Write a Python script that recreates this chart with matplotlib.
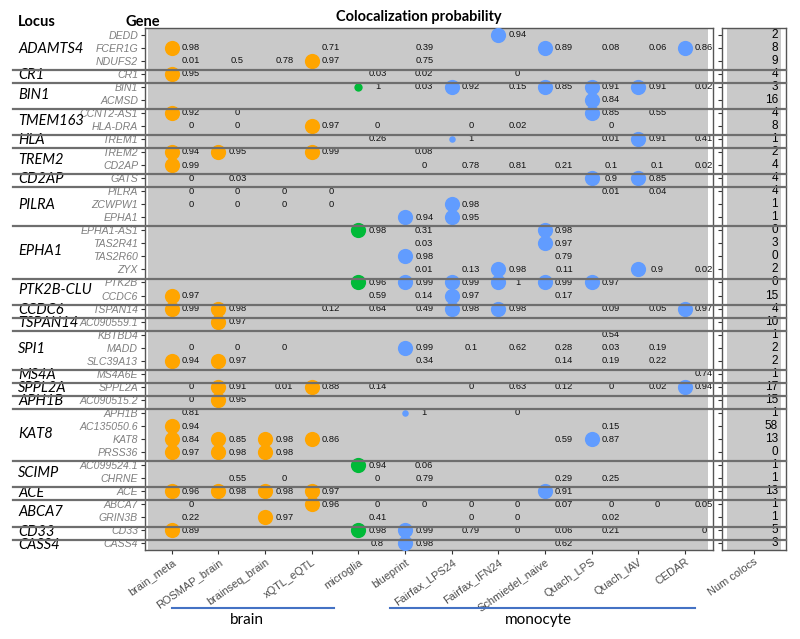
import matplotlib
matplotlib.use('Agg')
import matplotlib.pyplot as plt
from matplotlib.lines import Line2D
from matplotlib.transforms import blended_transform_factory

# columns (datasets) and their tissue group
datasets = ['brain_meta', 'ROSMAP_brain', 'brainseq_brain', 'xQTL_eQTL', 'microglia',
            'blueprint', 'Fairfax_LPS24', 'Fairfax_IFN24', 'Schmiedel_naive',
            'Quach_LPS', 'Quach_IAV', 'CEDAR']
tissue = ['brain'] * 4 + ['microglia'] + ['monocyte'] * 7

# loci and the genes they contain (top to bottom)
loci = ['ADAMTS4', 'CR1', 'BIN1', 'TMEM163', 'HLA', 'TREM2', 'CD2AP', 'PILRA', 'EPHA1',
        'PTK2B-CLU', 'CCDC6', 'TSPAN14', 'SPI1', 'MS4A', 'SPPL2A', 'APH1B', 'KAT8',
        'SCIMP', 'ACE', 'ABCA7', 'CD33', 'CASS4']
locus_genes = [
    ['DEDD', 'FCER1G', 'NDUFS2'],
    ['CR1'],
    ['BIN1', 'ACMSD'],
    ['CCNT2-AS1', 'HLA-DRA'],
    ['TREM1'],
    ['TREM2', 'CD2AP'],
    ['GATS'],
    ['PILRA', 'ZCWPW1', 'EPHA1'],
    ['EPHA1-AS1', 'TAS2R41', 'TAS2R60', 'ZYX'],
    ['PTK2B', 'CCDC6'],
    ['TSPAN14'],
    ['AC090559.1'],
    ['KBTBD4', 'MADD', 'SLC39A13'],
    ['MS4A6E'],
    ['SPPL2A'],
    ['AC090515.2'],
    ['APH1B', 'AC135050.6', 'KAT8', 'PRSS36'],
    ['AC099524.1', 'CHRNE'],
    ['ACE'],
    ['ABCA7', 'GRIN3B'],
    ['CD33'],
    ['CASS4'],
]

# colocalization probability per gene and dataset
coloc = {
    'DEDD': {'Fairfax_IFN24': 0.94},
    'FCER1G': {'brain_meta': 0.98, 'xQTL_eQTL': 0.71, 'blueprint': 0.39, 'Schmiedel_naive': 0.89,
               'Quach_LPS': 0.08, 'Quach_IAV': 0.06, 'CEDAR': 0.86},
    'NDUFS2': {'brain_meta': 0.01, 'ROSMAP_brain': 0.5, 'brainseq_brain': 0.78, 'xQTL_eQTL': 0.97,
               'blueprint': 0.75},
    'CR1': {'brain_meta': 0.95, 'microglia': 0.03, 'blueprint': 0.02, 'Fairfax_IFN24': 0},
    'BIN1': {'microglia': 1, 'blueprint': 0.03, 'Fairfax_LPS24': 0.92, 'Fairfax_IFN24': 0.15,
             'Schmiedel_naive': 0.85, 'Quach_LPS': 0.91, 'Quach_IAV': 0.91, 'CEDAR': 0.02},
    'ACMSD': {'Quach_LPS': 0.84},
    'CCNT2-AS1': {'brain_meta': 0.92, 'ROSMAP_brain': 0, 'Quach_LPS': 0.85, 'Quach_IAV': 0.55},
    'HLA-DRA': {'brain_meta': 0, 'ROSMAP_brain': 0, 'xQTL_eQTL': 0.97, 'microglia': 0,
                'Fairfax_LPS24': 0, 'Fairfax_IFN24': 0.02, 'Quach_LPS': 0},
    'TREM1': {'microglia': 0.26, 'Fairfax_LPS24': 1, 'Quach_LPS': 0.01, 'Quach_IAV': 0.91,
              'CEDAR': 0.41},
    'TREM2': {'brain_meta': 0.94, 'ROSMAP_brain': 0.95, 'xQTL_eQTL': 0.99, 'blueprint': 0.08},
    'CD2AP': {'brain_meta': 0.99, 'blueprint': 0, 'Fairfax_LPS24': 0.78, 'Fairfax_IFN24': 0.81,
              'Schmiedel_naive': 0.21, 'Quach_LPS': 0.1, 'Quach_IAV': 0.1, 'CEDAR': 0.02},
    'GATS': {'brain_meta': 0, 'ROSMAP_brain': 0.03, 'Quach_LPS': 0.9, 'Quach_IAV': 0.85},
    'PILRA': {'brain_meta': 0, 'ROSMAP_brain': 0, 'brainseq_brain': 0, 'xQTL_eQTL': 0,
              'Quach_LPS': 0.01, 'Quach_IAV': 0.04},
    'ZCWPW1': {'brain_meta': 0, 'ROSMAP_brain': 0, 'brainseq_brain': 0, 'xQTL_eQTL': 0,
               'Fairfax_LPS24': 0.98},
    'EPHA1': {'blueprint': 0.94, 'Fairfax_LPS24': 0.95},
    'EPHA1-AS1': {'microglia': 0.98, 'blueprint': 0.31, 'Schmiedel_naive': 0.98},
    'TAS2R41': {'blueprint': 0.03, 'Schmiedel_naive': 0.97},
    'TAS2R60': {'blueprint': 0.98, 'Schmiedel_naive': 0.79},
    'ZYX': {'blueprint': 0.01, 'Fairfax_LPS24': 0.13, 'Fairfax_IFN24': 0.98, 'Schmiedel_naive': 0.11,
            'Quach_IAV': 0.9, 'CEDAR': 0.02},
    'PTK2B': {'microglia': 0.96, 'blueprint': 0.99, 'Fairfax_LPS24': 0.99, 'Fairfax_IFN24': 1,
              'Schmiedel_naive': 0.99, 'Quach_LPS': 0.97},
    'CCDC6': {'brain_meta': 0.97, 'microglia': 0.59, 'blueprint': 0.14, 'Fairfax_LPS24': 0.97,
              'Schmiedel_naive': 0.17},
    'TSPAN14': {'brain_meta': 0.99, 'ROSMAP_brain': 0.98, 'xQTL_eQTL': 0.12, 'microglia': 0.64,
                'blueprint': 0.49, 'Fairfax_LPS24': 0.98, 'Fairfax_IFN24': 0.98, 'Quach_LPS': 0.09,
                'Quach_IAV': 0.05, 'CEDAR': 0.97},
    'AC090559.1': {'ROSMAP_brain': 0.97},
    'KBTBD4': {'Quach_LPS': 0.54},
    'MADD': {'brain_meta': 0, 'ROSMAP_brain': 0, 'brainseq_brain': 0, 'blueprint': 0.99,
             'Fairfax_LPS24': 0.1, 'Fairfax_IFN24': 0.62, 'Schmiedel_naive': 0.28, 'Quach_LPS': 0.03,
             'Quach_IAV': 0.19},
    'SLC39A13': {'brain_meta': 0.94, 'ROSMAP_brain': 0.97, 'blueprint': 0.34, 'Schmiedel_naive': 0.14,
                 'Quach_LPS': 0.19, 'Quach_IAV': 0.22},
    'MS4A6E': {'CEDAR': 0.74},
    'SPPL2A': {'brain_meta': 0, 'ROSMAP_brain': 0.91, 'brainseq_brain': 0.01, 'xQTL_eQTL': 0.88,
               'microglia': 0.14, 'Fairfax_LPS24': 0, 'Fairfax_IFN24': 0.63, 'Schmiedel_naive': 0.12,
               'Quach_LPS': 0, 'Quach_IAV': 0.02, 'CEDAR': 0.94},
    'AC090515.2': {'brain_meta': 0, 'ROSMAP_brain': 0.95},
    'APH1B': {'brain_meta': 0.81, 'blueprint': 1, 'Fairfax_IFN24': 0},
    'AC135050.6': {'brain_meta': 0.94, 'Quach_LPS': 0.15},
    'KAT8': {'brain_meta': 0.84, 'ROSMAP_brain': 0.85, 'brainseq_brain': 0.98, 'xQTL_eQTL': 0.86,
             'Schmiedel_naive': 0.59, 'Quach_LPS': 0.87},
    'PRSS36': {'brain_meta': 0.97, 'ROSMAP_brain': 0.98, 'brainseq_brain': 0.98},
    'AC099524.1': {'microglia': 0.94, 'blueprint': 0.06},
    'CHRNE': {'ROSMAP_brain': 0.55, 'brainseq_brain': 0, 'microglia': 0, 'blueprint': 0.79,
              'Schmiedel_naive': 0.29, 'Quach_LPS': 0.25},
    'ACE': {'brain_meta': 0.96, 'ROSMAP_brain': 0.98, 'brainseq_brain': 0.98, 'xQTL_eQTL': 0.97,
            'Schmiedel_naive': 0.91},
    'ABCA7': {'brain_meta': 0, 'xQTL_eQTL': 0.96, 'microglia': 0, 'blueprint': 0, 'Fairfax_LPS24': 0,
              'Fairfax_IFN24': 0, 'Schmiedel_naive': 0.07, 'Quach_LPS': 0, 'Quach_IAV': 0,
              'CEDAR': 0.05},
    'GRIN3B': {'brain_meta': 0.22, 'brainseq_brain': 0.97, 'microglia': 0.41, 'Fairfax_LPS24': 0,
               'Fairfax_IFN24': 0, 'Quach_LPS': 0.02},
    'CD33': {'brain_meta': 0.89, 'microglia': 0.98, 'blueprint': 0.99, 'Fairfax_LPS24': 0.79,
             'Fairfax_IFN24': 0, 'Schmiedel_naive': 0.06, 'Quach_LPS': 0.21, 'CEDAR': 0},
    'CASS4': {'microglia': 0.8, 'blueprint': 0.98, 'Schmiedel_naive': 0.62},
}

# cells drawn with a smaller dot
small_dots = [('BIN1', 'microglia'), ('TREM1', 'Fairfax_LPS24'), ('APH1B', 'blueprint')]

num_colocs = [2, 8, 9, 4, 3, 16, 4, 8, 1, 2, 4, 4, 4, 1, 1, 0, 3, 0, 2, 0,
              15, 4, 10, 1, 2, 2, 1, 17, 15, 1, 58, 13, 0, 1, 1, 13, 1, 1, 5, 3]

tissue_colors = {'brain': '#FFA500', 'microglia': '#00BA38', 'monocyte': '#619CFF'}
dot_cut = 0.82

genes = [g for grp in locus_genes for g in grp]
n = len(genes)

W, H = 800, 639
fig = plt.figure(figsize=(W / 100, H / 100), dpi=100)
ax = fig.add_axes([145 / W, 1 - 550 / H, 568 / W, 522 / H])
ax2 = fig.add_axes([722 / W, 1 - 550 / H, 64 / W, 522 / H])

tile = '#c9c9c9'
ax.barh(range(n), len(datasets), left=-0.5, height=1, color=tile, zorder=0)
ax2.barh(range(n), 1, left=-0.5, height=1, color=tile, zorder=0)

for i, g in enumerate(genes):
    for j, d in enumerate(datasets):
        if d not in coloc[g]:
            continue
        v = coloc[g][d]
        if v >= dot_cut:
            s = 120
            if (g, d) in small_dots:
                s = 36 if tissue[j] == 'microglia' else 22
            ax.scatter(j, i, s=s, color=tissue_colors[tissue[j]], linewidths=0, zorder=3)
        ax.text(j + 0.41, i, f'{v:g}', ha='center', va='center', fontsize=6.7,
                family='Liberation Sans', color='#111111', zorder=4)

for i, c in enumerate(num_colocs):
    ax2.text(0.44, i, str(c), ha='right', va='center', fontsize=8.5,
             family='Liberation Sans', color='black')

ax.set_xlim(-0.575, len(datasets) - 0.4)
ax.set_ylim(n - 0.5, -0.5)
ax2.set_xlim(-0.59, 0.59)
ax2.set_ylim(n - 0.5, -0.5)

ax.set_yticks(range(n))
ax.set_yticklabels(genes, fontsize=7.6, style='italic', color='#7f7f7f', family='Liberation Sans')
ax.set_xticks(range(len(datasets)))
ax.set_xticklabels(datasets, rotation=35, ha='right', rotation_mode='anchor', fontsize=7.9,
                   color='#4d4d4d', family='Liberation Sans')
ax2.set_yticks(range(n))
ax2.set_yticklabels([])
ax2.set_xticks([0])
ax2.set_xticklabels(['Num colocs'], rotation=35, ha='right', rotation_mode='anchor', fontsize=7.9,
                    color='#4d4d4d', family='Liberation Sans')
for a in (ax, ax2):
    a.tick_params(length=3, width=0.8, color='#333333', pad=2)
    for sp in a.spines.values():
        sp.set_color('#555555')
        sp.set_linewidth(1.0)

# locus separators and labels, x in figure fraction, y in data rows
tr = blended_transform_factory(fig.transFigure, ax.transData)
start = 0
for name, grp in zip(loci, locus_genes):
    k = len(grp)
    ax.text(18 / W, start + (k - 1) / 2 + 0.1, name, transform=tr, ha='left', va='center',
            fontsize=10.5, style='italic', family='Lato', color='black', clip_on=False)
    if start > 0:
        fig.add_artist(Line2D([13 / W, 786 / W], [start - 0.3, start - 0.3], transform=tr,
                              color='#6e6e6e', lw=1.6))
    start += k

fig.text(18 / W, 1 - 22 / H, 'Locus', ha='left', va='center', fontsize=10.5,
         weight='bold', family='Lato')
fig.text(143 / W, 1 - 22 / H, 'Gene', ha='center', va='center', fontsize=10.5,
         weight='bold', family='Lato')
fig.text(419 / W, 1 - 17 / H, 'Colocalization probability', ha='center', va='center',
         fontsize=10.5, weight='bold', family='Lato')

# tissue brackets below the x axis
fig.add_artist(Line2D([172 / W, 334 / W], [1 - 608 / H] * 2, color='#4472C4', lw=1.5))
fig.add_artist(Line2D([390 / W, 695 / W], [1 - 608 / H] * 2, color='#4472C4', lw=1.5))
fig.text(247 / W, 1 - 620 / H, 'brain', ha='center', va='center', fontsize=11, family='Lato')
fig.text(538 / W, 1 - 620 / H, 'monocyte', ha='center', va='center', fontsize=11, family='Lato')

fig.savefig('out.png', dpi=100)
